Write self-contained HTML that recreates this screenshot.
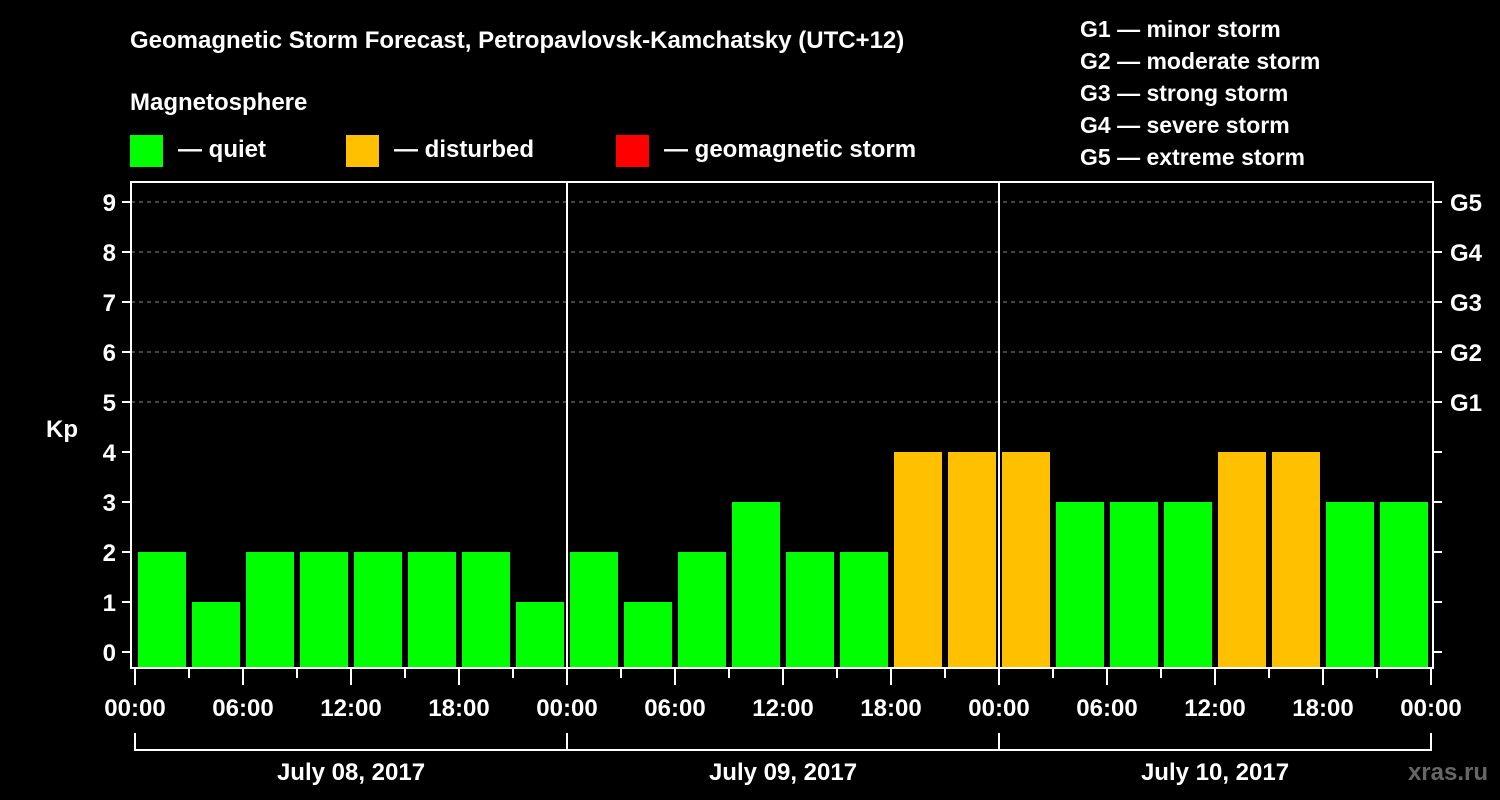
<!DOCTYPE html>
<html><head><meta charset="utf-8"><style>
html,body{margin:0;padding:0;background:#000;}
svg{display:block;font-family:"Liberation Sans",Arial,sans-serif;font-weight:bold;}
</style></head><body>
<svg id="chart" width="1500" height="800" viewBox="0 0 1500 800">
<rect width="1500" height="800" fill="#000"/>
<text x="130" y="48" font-size="24" fill="#fff">Geomagnetic Storm Forecast, Petropavlovsk-Kamchatsky (UTC+12)</text>
<text x="130" y="110" font-size="24" fill="#fff">Magnetosphere</text>
<g><rect x="130" y="135" width="33" height="32" fill="#00ff00"/><text x="178" y="157" font-size="24" fill="#fff">— quiet</text></g>
<g><rect x="346" y="135" width="33" height="32" fill="#ffc000"/><text x="394" y="157" font-size="24" fill="#fff">— disturbed</text></g>
<g><rect x="616" y="135" width="33" height="32" fill="#ff0000"/><text x="664" y="157" font-size="24" fill="#fff">— geomagnetic storm</text></g>
<g font-size="23" fill="#fff">
<text x="1080" y="37">G1 — minor storm</text>
<text x="1080" y="69">G2 — moderate storm</text>
<text x="1080" y="101">G3 — strong storm</text>
<text x="1080" y="133">G4 — severe storm</text>
<text x="1080" y="165">G5 — extreme storm</text>
</g>
<text x="62" y="437" font-size="24" fill="#fff" text-anchor="middle">Kp</text>
<g id="grid"></g><g id="bars"></g><g id="axes"></g>
<text x="1488" y="780" font-size="24" fill="#666" text-anchor="end">xras.ru</text>
</svg>
<script>
const kpValues = [2,1,2,2,2,2,2,1, 2,1,2,3,2,2,4,4, 4,3,3,3,4,4,3,3];
const dayLabels = ["July 08, 2017","July 09, 2017","July 10, 2017"];
const hourLabels = ["00:00","06:00","12:00","18:00"];
const gLabels = ["G1","G2","G3","G4","G5"];
const yTicks = [0,1,2,3,4,5,6,7,8,9];

const NS="http://www.w3.org/2000/svg";
const x0=135, hourPx=18, yZero=652, unitPx=50, plotTop=182, plotBottom=668, plotLeft=131, plotRight=1433;
const xScale=h=>x0+h*hourPx;
const yScale=v=>yZero-v*unitPx;
function mk(tag,attrs,parent){const e=document.createElementNS(NS,tag);for(const k in attrs)e.setAttribute(k,attrs[k]);parent.appendChild(e);return e;}
const grid=document.getElementById('grid'),bars=document.getElementById('bars'),axes=document.getElementById('axes');

yTicks.forEach(v=>{
  if(v>=5){const l=mk('line',{x1:plotLeft,x2:plotRight,y1:yScale(v),y2:yScale(v),stroke:'#888','stroke-width':1,'stroke-dasharray':'4,4'},grid);
  
  }
  const t=mk('line',{x1:122,x2:plotLeft,y1:yScale(v),y2:yScale(v),stroke:'#fff','stroke-width':2},axes);
  
  
  const t2=mk('line',{x1:plotRight,x2:1442,y1:yScale(v),y2:yScale(v),stroke:'#fff','stroke-width':2},axes);
  
  
  const lb=mk('text',{x:116,y:yScale(v)+9,'font-size':24,fill:'#fff','text-anchor':'end'},axes);
  lb.textContent=v;
  
  
});
gLabels.forEach((g,i)=>{
  const lb=mk('text',{x:1450,y:yScale(5+i)+9,'font-size':24,fill:'#fff'},axes);
  lb.textContent=g;
  
  
});
kpValues.forEach((v,i)=>{
  const xl=xScale(i*3)+3, xr=xScale(i*3+3)-3;
  const col=v>=5?'#ff0000':(v>=4?'#ffc000':'#00ff00');
  const r=mk('rect',{x:xl,y:yScale(v),width:xr-xl,height:plotBottom-yScale(v),fill:col},bars);
  
  
});
const frame=mk('rect',{x:plotLeft,y:plotTop,width:plotRight-plotLeft,height:plotBottom-plotTop,fill:'none',stroke:'#fff','stroke-width':2},axes);


for(let d=1;d<dayLabels.length;d++){
  const l=mk('line',{x1:xScale(d*24),x2:xScale(d*24),y1:plotTop,y2:plotBottom,stroke:'#fff','stroke-width':2},axes);
  
  
}
for(let h=0;h<=dayLabels.length*24;h+=3){
  const major=h%6===0;
  const l=mk('line',{x1:xScale(h),x2:xScale(h),y1:plotBottom,y2:major?685:678,stroke:'#fff','stroke-width':2},axes);
  
  
  if(major){
    const lb=mk('text',{x:xScale(h),y:716,'font-size':24,fill:'#fff','text-anchor':'middle'},axes);
    lb.textContent=hourLabels[(h/6)%4];
    
    
  }
}
dayLabels.forEach((d,i)=>{
  const a=xScale(i*24),b=xScale(i*24+24);
  const p=mk('path',{d:`M${a},733 V750 H${b} V733`,fill:'none',stroke:'#fff','stroke-width':2},axes);
  
  
  const lb=mk('text',{x:(a+b)/2,y:780,'font-size':24,fill:'#fff','text-anchor':'middle'},axes);
  lb.textContent=d;
  
  
});
</script>
</body></html>
